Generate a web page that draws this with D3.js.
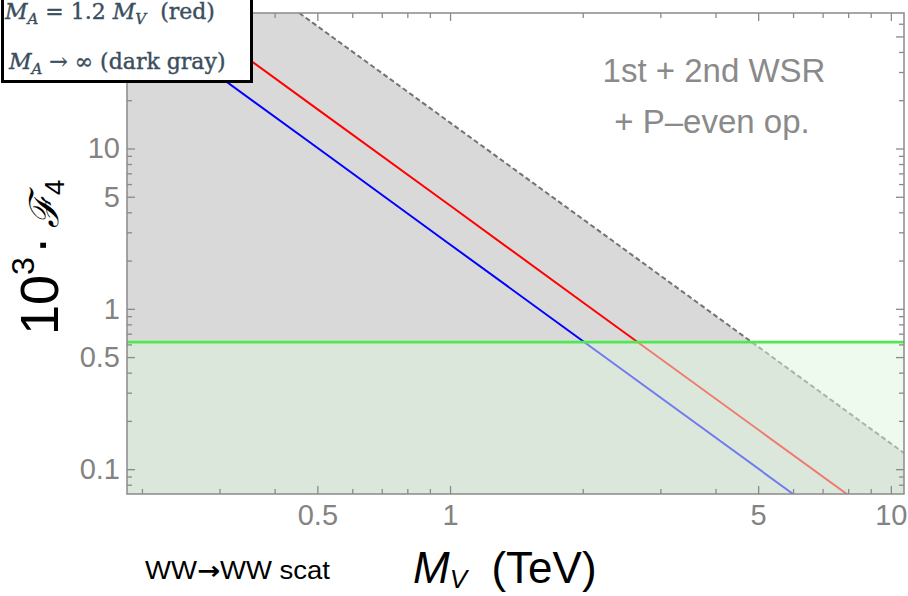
<!DOCTYPE html>
<html><head><meta charset="utf-8">
<script src="https://cdn.jsdelivr.net/npm/d3@7"></script>
<style>body{margin:0;background:#fff} svg{display:block}</style>
</head><body>
<svg id="chart" width="908" height="596"></svg>
<script>
// ---- data ----
const blueMV = [0.19, 0.5, 1, 2, 6];
const blueF  = [70, 10.1, 2.52, 0.63, 0.07];
const redMV  = [0.251, 0.5, 1, 2, 8];
const redF   = [70, 17.6, 4.41, 1.1, 0.069];
const grayMV = [0.185, 0.455, 1, 2, 5, 10.71];
const grayF  = [70, 70, 14.5, 3.63, 0.58, 0.126];
const greenF = 0.62;
const xTickLabels = [0.5, 1, 5, 10];
const xMinorTicks = [0.2, 0.3, 0.4, 0.6, 0.7, 0.8, 0.9, 2, 3, 4, 6, 7, 8, 9];
const yTickLabels = [0.1, 0.5, 1, 5, 10];
const yMajorHidden = [50];
const yMinorTicks = [0.08, 0.09, 0.2, 0.3, 0.4, 0.6, 0.7, 0.8, 0.9, 2, 3, 4, 6, 7, 8, 9, 20, 30, 40, 60];
const xDomain = [0.185, 10.71];
const yDomain = [0.07, 70];

const svg = d3.select("#chart");
const L = 127, R = 904, T = 13, B = 494;
const x = d3.scaleLog().domain(xDomain).range([L, R]);
const y = d3.scaleLog().domain(yDomain).range([B, T]);

svg.append("defs").append("clipPath").attr("id", "clip")
  .append("rect").attr("x", L).attr("y", T).attr("width", R - L).attr("height", B - T);
const plot = svg.append("g").attr("clip-path", "url(#clip)");

// gray region (M_A -> infinity)
const grayPts = grayMV.map((m, i) => [m, grayF[i]]);
plot.append("path")
  .attr("d", d3.area().x(d => x(d[0])).y0(y(yDomain[0])).y1(d => y(d[1]))(grayPts))
  .attr("fill", "#d9d9d9");

const line = d3.line().x(d => x(d[0])).y(d => y(d[1]));
// dashed boundary
plot.append("path").attr("d", line(grayPts.slice(1)))
  .attr("fill", "none").attr("stroke", "#737373").attr("stroke-width", 2)
  .attr("stroke-dasharray", "5,3");
// red and blue lines
plot.append("path").attr("d", line(redMV.map((m, i) => [m, redF[i]])))
  .attr("fill", "none").attr("stroke", "#ff0000").attr("stroke-width", 2);
plot.append("path").attr("d", line(blueMV.map((m, i) => [m, blueF[i]])))
  .attr("fill", "none").attr("stroke", "#0000ff").attr("stroke-width", 2);

// green allowed region
plot.append("rect").attr("x", L).attr("width", R - L)
  .attr("y", y(greenF)).attr("height", B - y(greenF))
  .attr("fill", "rgb(223,245,223)").attr("fill-opacity", 0.5);
plot.append("line").attr("x1", L).attr("x2", R).attr("y1", y(greenF)).attr("y2", y(greenF))
  .attr("stroke", "#4fe94f").attr("stroke-width", 2.8);

// axes / frame
const axisColor = "#8a8a8a", labelColor = "#838383";
function styleAxis(g) {
  g.select(".domain").remove();
  g.selectAll(".tick line").attr("stroke", axisColor).attr("stroke-width", 1.3);
  g.selectAll(".tick text").attr("fill", labelColor)
    .style("font-family", "'Liberation Sans', Arial, sans-serif").style("font-size", "29px");
}
const fmt = d => String(d);
const yMajorAll = yTickLabels.concat(yMajorHidden);
svg.append("g").attr("transform", `translate(0,${B})`)
  .call(d3.axisBottom(x).tickValues(xTickLabels).tickFormat(fmt).tickSize(-8).tickPadding(10)).call(styleAxis);
svg.append("g").attr("transform", `translate(0,${B})`)
  .call(d3.axisBottom(x).tickValues(xMinorTicks).tickFormat("").tickSize(-5)).call(styleAxis);
svg.append("g").attr("transform", `translate(0,${T})`)
  .call(d3.axisTop(x).tickValues(xTickLabels).tickFormat("").tickSize(-8)).call(styleAxis);
svg.append("g").attr("transform", `translate(0,${T})`)
  .call(d3.axisTop(x).tickValues(xMinorTicks).tickFormat("").tickSize(-5)).call(styleAxis);
svg.append("g").attr("transform", `translate(${L},0)`)
  .call(d3.axisLeft(y).tickValues(yTickLabels).tickFormat(fmt).tickSize(-8).tickPadding(7)).call(styleAxis);
svg.append("g").attr("transform", `translate(${L},0)`)
  .call(d3.axisLeft(y).tickValues(yMajorHidden).tickFormat("").tickSize(-8)).call(styleAxis);
svg.append("g").attr("transform", `translate(${L},0)`)
  .call(d3.axisLeft(y).tickValues(yMinorTicks).tickFormat("").tickSize(-5)).call(styleAxis);
svg.append("g").attr("transform", `translate(${R},0)`)
  .call(d3.axisRight(y).tickValues(yMajorAll).tickFormat("").tickSize(-8)).call(styleAxis);
svg.append("g").attr("transform", `translate(${R},0)`)
  .call(d3.axisRight(y).tickValues(yMinorTicks).tickFormat("").tickSize(-5)).call(styleAxis);
svg.append("rect").attr("x", L).attr("y", T).attr("width", R - L).attr("height", B - T)
  .attr("fill", "none").attr("stroke", axisColor).attr("stroke-width", 1.5);

// annotation
const ann = svg.append("text").attr("fill", "#8a8a8a")
  .style("font-family", "'Liberation Sans', Arial, sans-serif").style("font-size", "33px")
  .attr("text-anchor", "middle");
ann.append("tspan").attr("x", 714).attr("y", 82).text("1st + 2nd WSR");
ann.append("tspan").attr("x", 712).attr("y", 133).text("+ P\u2013even op.");

// y title (reads bottom to top, starting near y = 335)
const yt = svg.append("text").attr("transform", "translate(58,335) rotate(-90)")
  .attr("text-anchor", "start").attr("fill", "#000")
  .style("font-family", "'Liberation Sans', Arial, sans-serif").style("font-size", "54px");
yt.append("tspan").text("10");
yt.append("tspan").attr("dy", -24).style("font-size", "32px").text("3");
yt.append("tspan").attr("dy", 24).attr("dx", 3).text("\u00B7");
yt.append("tspan").attr("dx", 8).style("font-family", "'DejaVu Serif', serif").style("font-style", "italic")
  .style("font-size", "40px").text("\u2131");
yt.append("tspan").attr("dy", 6).style("font-size", "28px").text("4");

// x title
const xt = svg.append("text").attr("x", 413).attr("y", 583).attr("fill", "#000")
  .style("font-family", "'Liberation Sans', Arial, sans-serif").style("font-size", "44px");
xt.append("tspan").style("font-style", "italic").text("M");
xt.append("tspan").attr("dy", 5).style("font-size", "26px").style("font-style", "italic").text("V");
xt.append("tspan").attr("dy", -5).text("\u00A0 (TeV)");

// bottom-left note
const note = svg.append("text").attr("x", 145).attr("y", 579).attr("fill", "#000")
  .attr("textLength", 185).attr("lengthAdjust", "spacingAndGlyphs")
  .style("font-family", "'Liberation Sans', Arial, sans-serif").style("font-size", "25px");
note.append("tspan").text("WW");
note.append("tspan").style("font-family", "'DejaVu Sans', sans-serif").style("font-weight", "bold").text("\u2192");
note.append("tspan").text("WW scat");

// legend box
svg.append("rect").attr("x", 2.5).attr("y", -10).attr("width", 249).attr("height", 91.5)
  .attr("fill", "#fff").attr("stroke", "#000").attr("stroke-width", 3);
const legFont = "'DejaVu Serif', serif";
const legColor = "#3a4e5e";
function legLine(yy, xx, parts) {
  const t = svg.append("text").attr("x", xx).attr("y", yy).attr("fill", legColor)
    .attr("stroke", legColor).attr("stroke-width", 0.4)
    .style("font-family", legFont).style("font-size", "22px");
  parts.forEach(p => {
    const s = t.append("tspan").text(p.t);
    if (p.i) s.style("font-style", "italic");
    if (p.sub) s.attr("dy", 5).style("font-size", "15px");
    if (p.up) s.attr("dy", -5);
  });
}
legLine(19, 5, [{t: "M", i: 1}, {t: "A", i: 1, sub: 1}, {t: " = 1.2 ", up: 1}, {t: "M", i: 1},
  {t: "V", i: 1, sub: 1}, {t: "\u00A0 (red)", up: 1}]);
legLine(69, 9, [{t: "M", i: 1}, {t: "A", i: 1, sub: 1}, {t: " \u2192 \u221E (dark gray)", up: 1}]);
</script>
</body></html>
